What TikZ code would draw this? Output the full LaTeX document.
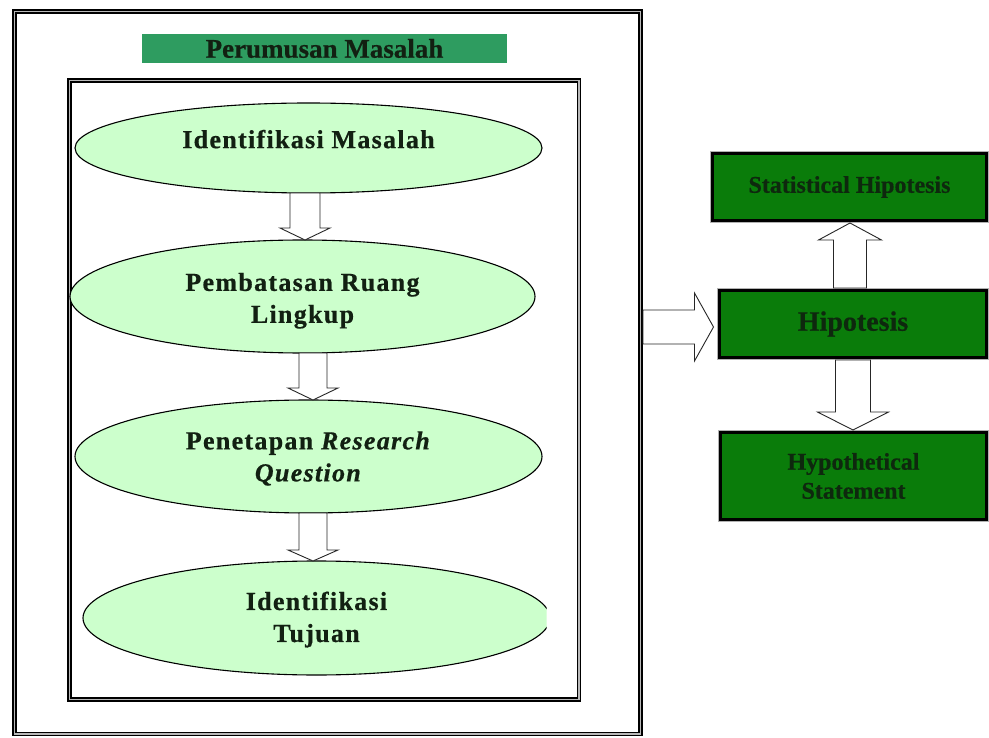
\documentclass[tikz,border=0pt]{standalone}
\usepackage{fontspec}
\setmainfont{Liberation Serif}[FakeBold=0.5]
\newfontfamily\spacedserif{Liberation Serif}[LetterSpace=5, FakeBold=0.6]
\usetikzlibrary{shapes.geometric,calc}

\definecolor{ellfill}{RGB}{204,255,204}
\definecolor{titlegreen}{RGB}{46,156,96}
\definecolor{boxgreen}{RGB}{10,124,10}
\definecolor{inkdark}{RGB}{18,32,18}
\definecolor{boxink}{RGB}{14,40,14}

\tikzset{
  framebox/.style={draw=black, line width=1.5pt, double=gray!55, double distance=1.6pt,
                   inner sep=0pt, outer sep=0pt},
  stage/.style={ellipse, draw=black, line width=1.1pt, fill=ellfill, inner sep=0pt, outer sep=0pt,
                align=center, text=inkdark, font=\spacedserif\bfseries\fontsize{26}{32}\selectfont},
  hbox/.style={rectangle, draw=black, line width=3pt, preaction={draw=gray!60, line width=5pt},
               fill=boxgreen, inner sep=0pt, outer sep=0pt, align=center, text=boxink,
               font=\bfseries\fontsize{24}{29}\selectfont},
  barrow/.style={draw=black!85, line width=0.9pt, fill=white, line join=miter},
}

% hollow block arrows: #1 tail, #2 tip, #3 shaft half-width, #4 head half-width, #5 head length
\newcommand{\blkdown}[5]{\draw[barrow] let \p1=(#1), \p2=(#2) in
  (\x2-#3pt,\y1) -- (\x2-#3pt,\y2+#5pt) -- (\x2-#4pt,\y2+#5pt) -- (\x2,\y2)
  -- (\x2+#4pt,\y2+#5pt) -- (\x2+#3pt,\y2+#5pt) -- (\x2+#3pt,\y1) -- cycle;}
\newcommand{\blkup}[5]{\draw[barrow] let \p1=(#1), \p2=(#2) in
  (\x2-#3pt,\y1) -- (\x2-#3pt,\y2-#5pt) -- (\x2-#4pt,\y2-#5pt) -- (\x2,\y2)
  -- (\x2+#4pt,\y2-#5pt) -- (\x2+#3pt,\y2-#5pt) -- (\x2+#3pt,\y1) -- cycle;}
\newcommand{\blkright}[5]{\draw[barrow] let \p1=(#1), \p2=(#2) in
  (\x1,\y2-#3pt) -- (\x2-#5pt,\y2-#3pt) -- (\x2-#5pt,\y2-#4pt) -- (\x2,\y2)
  -- (\x2-#5pt,\y2+#4pt) -- (\x2-#5pt,\y2+#3pt) -- (\x1,\y2+#3pt) -- cycle;}

\begin{document}
\begin{tikzpicture}[x=1pt, y=-1pt]
  \useasboundingbox[fill=white] (0,0) rectangle (989,738);

  % frames
  \node[framebox, minimum width=626pt, minimum height=722.5pt] (outer) at (327.5,372.75) {};
  \node[framebox, minimum width=509.5pt, minimum height=619pt] (inner) at (324.25,390) {};

  % heading
  \node[fill=titlegreen, minimum width=365pt, minimum height=29pt, inner sep=0pt, outer sep=0pt,
        text=inkdark, font=\bfseries\fontsize{27}{30}\selectfont] (title) at (324.5,48.5) {Perumusan Masalah};

  % stages
  \node[stage, minimum width=467pt, minimum height=90pt, text depth=18pt] (e1) at (308.5,148) {Identifikasi Masalah};
  \node[stage, minimum width=465pt, minimum height=113pt, text height=58.5pt] (e2) at (302.5,296.5) {Pembatasan Ruang\\Lingkup};
  \node[stage, minimum width=467pt, minimum height=113pt, text height=54pt] (e3) at (308.5,456.5) {Penetapan \textit{Research}\\\textit{Question}};
  \begin{scope}
    \clip (0,0) rectangle (546.5,738);
    \node[stage, minimum width=467pt, minimum height=114pt, text height=53.5pt] (e4) at (316.5,618) {Identifikasi\\Tujuan};
  \end{scope}

  \blkdown{e1.south}{$(e2.north)+(2.5,0)$}{15}{25}{12}
  \blkdown{e2.south}{$(e3.north)+(4.5,0)$}{14}{25}{12}
  \blkdown{e3.south}{$(e4.north)+(-3.5,0)$}{14}{25}{11}

  % hypothesis side
  \node[hbox, minimum width=274pt, minimum height=67pt] (stat) at (849.5,187) {Statistical Hipotesis};
  \node[hbox, minimum width=267pt, minimum height=67pt, font=\bfseries\fontsize{28}{30}\selectfont] (hip) at (853,324) {Hipotesis};
  \node[hbox, minimum width=266pt, minimum height=87pt] (hypo) at (853.5,476) {Hypothetical\\Statement};

  \blkright{$(outer.east)+(2.5,0)$}{$(hip.west)+(-6,3)$}{17}{34}{19}
  \blkup{$(hip.north)+(0,-2.5)$}{$(stat.south)+(0.5,2.5)$}{16.5}{31.5}{17}
  \blkdown{$(hip.south)+(0,2.5)$}{$(hypo.north)+(-0.5,-2.5)$}{17.5}{35.5}{18}
\end{tikzpicture}
\end{document}
